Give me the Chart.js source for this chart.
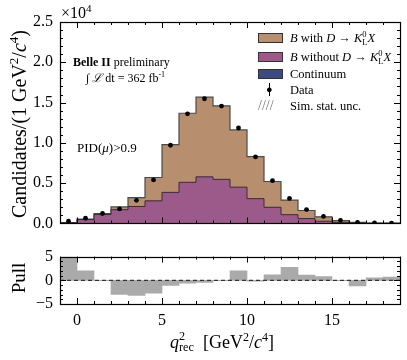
<!DOCTYPE html>
<html>
<head>
<meta charset="utf-8">
<script src="https://cdn.jsdelivr.net/npm/chart.js@4"></script>
<style>
  html, body { margin: 0; padding: 0; background: #fff; }
  #wrap { position: relative; width: 407px; height: 360px; overflow: hidden; }
  canvas { position: absolute; left: 0; }
  .t { position: absolute; font-family: 'Liberation Serif', serif; color: #000; white-space: nowrap; line-height: 1; }
  .ss { display: inline-block; vertical-align: -0.3em; font-size: 0.68em; line-height: 0.9; text-align: left; }
  .ss span { display: block; }
  .sw { position: absolute; width: 23px; height: 8px; border: 1px solid #333; }
</style>
</head>
<body>
<div id="wrap">
  <canvas id="main" width="407" height="240" style="top:0"></canvas>
  <canvas id="pull" width="407" height="120" style="top:240px"></canvas>

  <div class="t" style="left:61px; top:3px; font-size:16px;">×10<sup style="font-size:11px">4</sup></div>

  <div class="t" style="left:73px; top:56px; font-size:12px;"><b>Belle II</b> preliminary</div>
  <div class="t" style="left:86px; top:71px; font-size:12px;">∫ <i>ℒ</i> dt = 362 fb<sup style="font-size:8px">-1</sup></div>
  <div class="t" style="left:77px; top:141px; font-size:13px;">PID(<i>μ</i>)&gt;0.9</div>

  <!-- legend -->
  <div class="sw" style="left:258px; top:33px; background:#b78f6e;"></div>
  <div class="t" style="left:290px; top:31px; font-size:12.5px;"><i>B</i> with <i>D</i> → <i>K</i><span class="ss"><span>0</span><span>L</span></span><i>X</i></div>
  <div class="sw" style="left:258px; top:52px; background:#9c5a8b;"></div>
  <div class="t" style="left:290px; top:50px; font-size:12.5px;"><i>B</i> without <i>D</i> → <i>K</i><span class="ss"><span>0</span><span>L</span></span><i>X</i></div>
  <div class="sw" style="left:258px; top:69px; background:#3b4a7f;"></div>
  <div class="t" style="left:290px; top:68px; font-size:12.5px;">Continuum</div>
  <div class="t" style="left:266px; top:84px; font-size:11px;">●</div>
  <div style="position:absolute; left:269px; top:83px; width:1px; height:13px; background:#000;"></div>
  <div class="t" style="left:290px; top:84px; font-size:12.5px;">Data</div>
  <div class="t" style="left:258px; top:99px; font-size:14px; color:#777; letter-spacing:0px;">////</div>
  <div class="t" style="left:290px; top:100px; font-size:12.5px;">Sim. stat. unc.</div>

  <!-- axis titles -->
  <div class="t" style="left:18px; top:124px; font-size:20px; transform: translate(-50%, -50%) rotate(-90deg);">Candidates/(1 GeV<sup style="font-size:13px">2</sup>/<i>c</i><sup style="font-size:13px">4</sup>)</div>
  <div class="t" style="left:18px; top:278px; font-size:19px; transform: translate(-50%, -50%) rotate(-90deg);">Pull</div>
  <div class="t" style="left:170px; top:331px; font-size:18px;"><i>q</i><span class="ss" style="vertical-align:-0.25em"><span>2</span><span>rec</span></span>&nbsp;&nbsp;[GeV<sup style="font-size:12px">2</sup>/<i>c</i><sup style="font-size:12px">4</sup>]</div>
</div>

<script>
// bin lower edges in q2_rec (GeV^2/c^4), bins are 1 wide
const binEdges = [-1, 0, 1, 2, 3, 4, 5, 6, 7, 8, 9, 10, 11, 12, 13, 14, 15, 16, 17, 18];
const binCenters = [-0.5, 0.5, 1.5, 2.5, 3.5, 4.5, 5.5, 6.5, 7.5, 8.5, 9.5, 10.5, 11.5, 12.5, 13.5, 14.5, 15.5, 16.5, 17.5, 18.5];

// B without D -> KL X (purple)
const bWithout = [90, 480, 1100, 1700, 2100, 2800, 3850, 5100, 5780, 5470, 4500, 3070, 2000, 1080, 600, 270, 120, 40, 15, 6];
// B with D -> KL X (brown), stacked on top
const bWith = [10, 60, 130, 350, 1100, 2900, 5920, 8570, 9890, 9130, 7100, 5230, 3200, 1820, 1000, 550, 230, 80, 35, 19];
// data points
const dataVals = [270, 640, 1230, 1800, 2870, 5400, 9700, 13600, 15470, 14560, 11840, 8250, 5300, 3100, 1710, 860, 380, 120, 50, 30];
// pull per bin
const pulls = [4.9, 2.0, -0.1, -3.0, -3.2, -2.7, -1.1, -0.6, -0.45, -0.1, 2.0, -0.2, 1.15, 2.75, 1.1, 0.77, -0.1, -1.2, 0.5, 0.7];

const xMajor = [0, 5, 10, 15];
const yMainMajor = [0, 5000, 10000, 15000, 20000, 25000];
const yPullMajor = [-5, 0, 5];

const xMin = -1, xMax = 19;

const totalMC = bWithout.map((v, i) => v + bWith[i]);

function stepPts(vals) {
  const pts = [{x: binEdges[0], y: 0}];
  vals.forEach((v, i) => pts.push({x: binEdges[i], y: v}));
  pts.push({x: xMax, y: vals[vals.length - 1]});
  pts.push({x: xMax, y: 0});
  return pts;
}

// frame + inward ticks on all four sides
function frameTicks(xMaj, xMinStep, yMaj, yMinStep, yLo, yHi) {
  return {
    id: 'frameTicks',
    afterDatasetsDraw(chart) {
      const {ctx, chartArea: a, scales: {x, y}} = chart;
      ctx.save();
      ctx.strokeStyle = '#000';
      ctx.lineWidth = 1;
      const tick = (x1, y1, x2, y2) => { ctx.beginPath(); ctx.moveTo(x1, y1); ctx.lineTo(x2, y2); ctx.stroke(); };
      // x ticks
      for (let v = xMin; v <= xMax + 1e-9; v += xMinStep) {
        const px = Math.round(x.getPixelForValue(v)) + 0.5;
        const len = xMaj.includes(Math.round(v)) ? 6 : 3;
        tick(px, a.bottom, px, a.bottom - len);
        tick(px, a.top, px, a.top + len);
      }
      for (let v = yLo; v <= yHi + 1e-9; v += yMinStep) {
        const py = Math.round(y.getPixelForValue(v)) + 0.5;
        const len = yMaj.some(m => Math.abs(m - v) < 1e-6) ? 6 : 3;
        tick(a.left, py, a.left + len, py);
        tick(a.right, py, a.right - len, py);
      }
      ctx.lineWidth = 1.2;
      ctx.strokeRect(Math.round(a.left) + 0.5, Math.round(a.top) + 0.5, Math.round(a.right - a.left), Math.round(a.bottom - a.top));
      ctx.restore();
    }
  };
}

const tickFont = {family: 'Liberation Serif', size: 16};

new Chart(document.getElementById('main'), {
  type: 'line',
  data: {
    datasets: [
      {
        type: 'scatter',
        data: binCenters.map((c, i) => ({x: c, y: dataVals[i]})),
        pointRadius: 2.4,
        pointBackgroundColor: '#000',
        pointBorderWidth: 0,
        showLine: false
      },
      {
        data: stepPts(bWithout),
        stepped: true,
        fill: 'origin',
        backgroundColor: '#9c5a8b',
        borderColor: '#3a2a35',
        borderWidth: 1,
        pointRadius: 0
      },
      {
        data: stepPts(totalMC),
        stepped: true,
        fill: 'origin',
        backgroundColor: '#b78f6e',
        borderColor: '#4a4a4a',
        borderWidth: 1.2,
        pointRadius: 0
      }
    ]
  },
  options: {
    responsive: false,
    animation: false,
    layout: {padding: {left: 0, right: 7, top: 22, bottom: 9}},
    scales: {
      x: {
        type: 'linear', min: xMin, max: xMax, display: false
      },
      y: {
        min: 0, max: 25000,
        afterFit: s => { s.width = 60; },
        afterBuildTicks: s => { s.ticks = yMainMajor.map(v => ({value: v})); },
        grid: {display: false, drawTicks: false},
        border: {display: false},
        ticks: {
          font: tickFont, color: '#000', padding: 7,
          callback: v => (v / 1e4).toFixed(1)
        }
      }
    },
    plugins: {legend: {display: false}, tooltip: {enabled: false}}
  },
  plugins: [frameTicks(xMajor, 1, yMainMajor, 1000, 0, 25000)]
});

new Chart(document.getElementById('pull'), {
  type: 'bar',
  data: {
    datasets: [
      {
        type: 'line',
        data: [{x: xMin, y: 0}, {x: xMax, y: 0}],
        borderColor: '#333',
        borderWidth: 1.2,
        borderDash: [4, 3],
        pointRadius: 0
      },
      {
        data: binCenters.map((c, i) => ({x: c, y: pulls[i]})),
        backgroundColor: '#aaaaaa',
        borderWidth: 0,
        barPercentage: 1,
        categoryPercentage: 1
      }
    ]
  },
  options: {
    responsive: false,
    animation: false,
    layout: {padding: {left: 0, right: 7, top: 12, bottom: 0}},
    scales: {
      x: {
        type: 'linear', min: xMin, max: xMax, offset: false,
        afterFit: s => { s.height = 56; },
        afterBuildTicks: s => { s.ticks = xMajor.map(v => ({value: v})); },
        grid: {display: false, drawTicks: false},
        border: {display: false},
        ticks: {font: tickFont, color: '#000', padding: 7, maxRotation: 0}
      },
      y: {
        min: -5, max: 5,
        afterFit: s => { s.width = 60; },
        afterBuildTicks: s => { s.ticks = yPullMajor.map(v => ({value: v})); },
        grid: {display: false, drawTicks: false},
        border: {display: false},
        ticks: {
          font: tickFont, color: '#000', padding: 7,
          callback: v => v < 0 ? '\u2212' + Math.abs(v) : String(v)
        }
      }
    },
    plugins: {legend: {display: false}, tooltip: {enabled: false}}
  },
  plugins: [frameTicks(xMajor, 1, yPullMajor, 1, -5, 5)]
});
</script>
</body>
</html>
